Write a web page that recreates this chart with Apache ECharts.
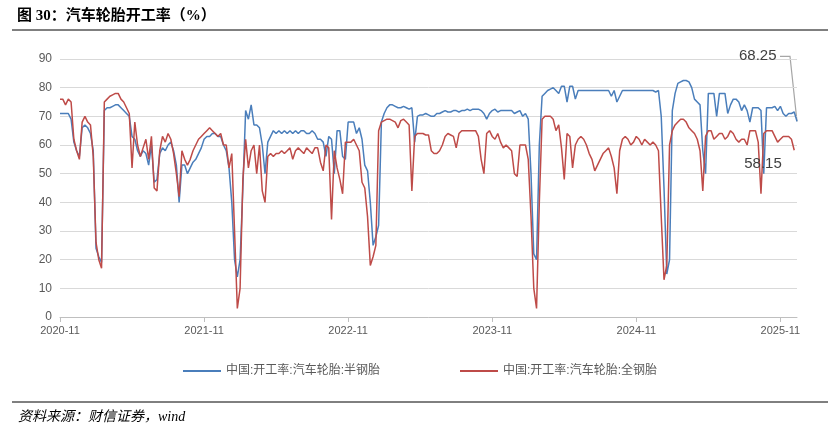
<!DOCTYPE html>
<html style="height: 100%">
<head>
<meta charset="utf-8">
</head>
<body style="height: 100%; margin: 0; background: #fff">
<div id="container" style="width: 840px; height: 434px"></div>
<script type="text/javascript" src="https://cdn.jsdelivr.net/npm/echarts@6/dist/echarts.min.js"></script>
<script type="text/javascript">
// weekly readings, 2020-11 .. 2025-12
var semiSteel = [
  71,71,71,71,69,61,58,56,66,67,66,64,58,24,21,19,72,73,73,73.5,74,74,73,72,71,70,
  63,62,58,56,58,57,53,60,47,48,57,59,58,60,61,58,53,40,53,53,50,52,54,55,57,59,
  62,63,63,64,64,63,63,60,58,52,40,20,14,20,45,72,69,74,67,67,66,60,50,61,63,65,
  64,65,64,65,64,65,64,65,64,65,65,64,64,65,64,62,62,61,56,63,62,50,65,65,56,55,
  68,68,68,64,66,62,53,51,40,25,28,32,68,71,73,74,74,73.5,73,73,73.5,73,72.5,73,
  61,70,70.5,70.5,71,70.5,70,70,71,71,71.5,72,71.5,71.5,72,72,71.5,72,72,72.5,72,72.5,72.5,
  72.5,72,71,69,71,72,72.5,71.5,
  72,72,72,72,72,71,71.5,72,70,71,69,50,22,20,60,77,78,79,79.5,80,79,78,80.5,
  80.5,75,80.5,80.5,76,79,79,79,79,79,79,79,79,79,79,79,79,77,79,75,77,79,79,79,
  79,79,79,79,79,79,79,79,79,78.5,79,70,45,15,20,72,78,81.5,82,82.5,82.5,82,80,76,
  75,74,58,50,78,78,78,70,78,78,78,71,74,76,76,75,72,74,72,68,73,73,73,72,50,73,73,
  73,73.5,72,73.5,71,70,71,71,71.5,68.25
];
var allSteel = [
  76,76,74,76,75,62,58,55,68,70,68,67,56,26,20,17,75,76,77,77.5,78,78,76,75,73,71,
  52,68,60,56,59,62,55,63,45,44,58,63,61,64,62,57,50,42,58,55,53,55,58,60,62,63,
  64,65,66,65,64,63,64,60,60,52,57,30,3,10,48,62,52,58,60,50,60,44,40,56,57,56,
  57,57,58,57,58,59,55,58,59,58,57,59,58,57,59,59,54,51,60,59,34,58,52,48,43,
  61,61,61,62,60,58,47,45,35,18,21,25,65,68,68.5,69,69,68.5,68,66,68.5,69,68,67,
  44,63,64,64,64,63.5,63.5,58,57,57,58,60,63,64,63.5,63,59,64,65,65,65,65,65,65,63,
  55,50,64,65,63,62,
  64,61,59,60,59,58,50,49,60,60,60,55,35,10,3,40,69,70,70,70,69,65,67,59,48,64,
  63,52,60,62,63,62,60,57,55,51,53,55,57,58,59,56,52,43,58,62,63,62,60,61,63,
  62,60,62,61,60,61,60,58,35,13,18,60,65,67,68,69,69,68,66,65,64,62,58,44,63,65,
  65,62,63,64,64,62,63,65,64,62,61,62,62,60,65,65,65,61,43,64,65,65,65,63,61,62,
  63,63,63,62,58.15
];
var tickLabels = ['2020-11', '2021-11', '2022-11', '2023-11', '2024-11', '2025-11'];
var tickIndex = [0, 52, 104, 156, 208, 260];
var seriesNames = ['中国:开工率:汽车轮胎:半钢胎', '中国:开工率:汽车轮胎:全钢胎'];

var n = Math.max(semiSteel.length, allSteel.length);
var cats = [];
for (var i = 0; i < n; i++) cats.push(i);

function showTick(idx) { return tickIndex.indexOf(idx) >= 0; }

var chart = echarts.init(document.getElementById('container'));
var option = {
  animation: false,
  textStyle: { fontFamily: 'Liberation Sans, Noto Sans CJK SC' },
  title: {
    text: '图 30：汽车轮胎开工率（%）',
    left: 12, top: 4,
    textStyle: { fontSize: 15, fontWeight: 'bold', color: '#000',
      fontFamily: 'Liberation Serif, Noto Sans CJK SC' }
  },
  grid: { left: 60, right: 43, top: 59, bottom: 117 },
  legend: {
    bottom: 52, itemGap: 80, itemWidth: 38, itemHeight: 2,
    icon: 'rect',
    textStyle: { color: '#595959', fontSize: 12 },
    data: seriesNames
  },
  xAxis: {
    type: 'category', data: cats, boundaryGap: false,
    axisLine: { lineStyle: { color: '#bfbfbf' } },
    axisTick: { interval: function (i) { return showTick(i); }, length: 5, lineStyle: { color: '#bfbfbf' } },
    axisLabel: {
      interval: function (i) { return showTick(i); },
      formatter: function (v, i) { var k = tickIndex.indexOf(i); return k >= 0 ? tickLabels[k] : ''; },
      color: '#595959', fontSize: 11
    }
  },
  yAxis: {
    type: 'value', min: 0, max: 90, interval: 10,
    axisLabel: { color: '#595959', fontSize: 12 },
    splitLine: { lineStyle: { color: '#d9d9d9' } }
  },
  series: [
    {
      name: seriesNames[0], type: 'line', showSymbol: false,
      lineStyle: { color: '#4a7ebb', width: 1.5 }, itemStyle: { color: '#4a7ebb' },
      data: semiSteel,
      endLabel: { show: true, fontSize: 15, color: '#404040', offset: [-66, -65],
        formatter: function (p) { return p.value; } }
    },
    {
      name: seriesNames[1], type: 'line', showSymbol: false,
      lineStyle: { color: '#be4b48', width: 1.5 }, itemStyle: { color: '#be4b48' },
      data: allSteel,
      endLabel: { show: true, fontSize: 15, color: '#404040', offset: [-58, 14],
        formatter: function (p) { return p.value; } }
    }
  ],
  graphic: [
    { type: 'line', shape: { x1: 12, y1: 30, x2: 828, y2: 30 }, style: { stroke: '#000', lineWidth: 1 } },
    { type: 'line', shape: { x1: 12, y1: 402, x2: 828, y2: 402 }, style: { stroke: '#000', lineWidth: 1 } },
    { type: 'text', left: 18, top: 410,
      style: { text: '资料来源：财信证券，wind', fill: '#000',
        font: 'italic 14px Liberation Serif, Noto Sans CJK SC' } }
  ]
};
chart.setOption(option);

// leader line from the blue end label down to its last point
var lastIdx = semiSteel.length - 1;
var pt = chart.convertToPixel({ gridIndex: 0 }, [lastIdx, semiSteel[lastIdx]]);
chart.setOption({
  graphic: [{
    id: 'leader', type: 'polyline',
    shape: { points: [[pt[0] - 17, pt[1] - 65], [pt[0] - 7, pt[1] - 65], [pt[0], pt[1]]] },
    style: { stroke: '#a6a6a6', lineWidth: 1.2, fill: null }
  }]
});
</script>
</body>
</html>
